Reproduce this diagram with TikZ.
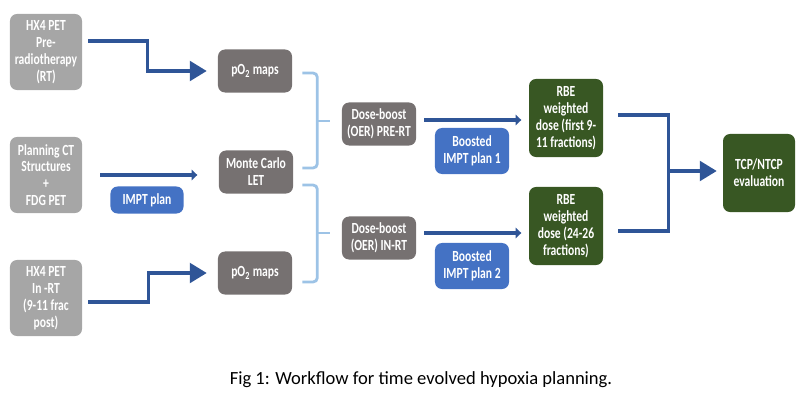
\documentclass[tikz,border=0pt]{standalone}
\usepackage{fontspec}
\setmainfont{Carlito}
\newfontfamily\boxfont{Carlito}[FakeStretch=0.75]
\usetikzlibrary{calc,arrows.meta}
\definecolor{grayin}{RGB}{166,166,166}
\definecolor{graymid}{RGB}{118,113,113}
\definecolor{planblue}{RGB}{68,114,196}
\definecolor{dosegreen}{RGB}{56,87,35}
\definecolor{arrowblue}{RGB}{47,85,151}
\definecolor{braceblue}{RGB}{157,195,230}

\begin{document}
\begin{tikzpicture}[x=0.025cm, y=-0.025cm,
  box/.style={rounded corners=5pt, text=white, align=center, font=\boxfont\bfseries\fontsize{11}{12}\selectfont, inner sep=0pt},
  inbox/.style={box, fill=grayin, minimum width=1.8cm, minimum height=1.9cm},
  midbox/.style={box, fill=graymid, minimum width=1.85cm, minimum height=1.075cm},
  planbox/.style={box, fill=planblue, minimum width=1.85cm},
  dosebox/.style={box, fill=dosegreen, minimum width=1.85cm, minimum height=1.95cm},
  flow/.style={arrowblue, line width=2.2pt},
  bigflow/.style={flow, -{Triangle[length=12pt,width=14pt]}},
  smallflow/.style={flow, line width=3pt, -{Triangle[length=4pt,width=7.5pt]}},
  brace/.style={braceblue, line width=2pt, rounded corners=3pt}]
        \useasboundingbox (0,0) rectangle (800,400);
        % inputs
        \node [inbox] (hxpre) at (46,52) {HX4 PET\\Pre-\\radiotherapy\\(RT)};
        \node [inbox] (plan) at (46,175) {Planning CT\\Structures\\+\\FDG PET};
        \node [inbox] (hxin) at (46,298) {HX4 PET\\In -RT\\(9-11 frac\\post)};
        % maps
        \node [midbox] (potop) at (255,71) {pO\textsubscript{2} maps};
        \node [midbox] (mc) at (256,172) {Monte Carlo\\LET};
        \node [midbox] (pobot) at (255,273) {pO\textsubscript{2} maps};
        \node [planbox, minimum height=0.675cm, minimum width=1.825cm] (impt) at (147,200) {IMPT plan};
        % boost
        \node [midbox] (dbpre) at (379,124) {Dose-boost\\(OER) PRE-RT};
        \node [midbox] (dbin) at (379,238) {Dose-boost\\(OER) IN-RT};
        \node [planbox, minimum height=1.15cm] (bst1) at (472,151) {Boosted\\IMPT plan 1};
        \node [planbox, minimum height=1.15cm] (bst2) at (472,266) {Boosted\\IMPT plan 2};
        % doses
        \node [dosebox] (rbe1) at (566,118) {RBE\\weighted\\dose (first 9-\\11 fractions)};
        \node [dosebox] (rbe2) at (566,226) {RBE\\weighted\\dose (24-26\\fractions)};
        \node [dosebox, minimum width=1.8cm] (tcp) at (759,173) {TCP/NTCP\\evaluation};
        \node [font=\fontsize{13.2}{15}\selectfont] (cap) at (421,380) {Fig 1: Workflow for time evolved hypoxia planning.};

        \draw[bigflow] ($(hxpre.east)+(6,-11)$) -- ++(59,0) |- ($(potop.west)+(-11,0)$);
        \draw[smallflow] ($(plan.east)+(18,0)$) -- ++(97,0);
        \draw[bigflow] ($(hxin.east)+(6,4)$) -- ++(60,0) |- ($(pobot.west)+(-11,0)$);

        \draw[brace] ($(potop.east)+(10,2)$) -- ++(15,0) -- ++(0,95) -- ++(-15,0);
        \draw[brace] ($(potop.east)+(25,50)$) -- ($(dbpre.west)+(-12,-3)$);
        \draw[brace] ($(mc.east)+(9,13)$) -- ++(15,0) -- ++(0,97) -- ++(-15,0);
        \draw[brace] ($(mc.east)+(24,61)$) -- ($(dbin.west)+(-12,-5)$);

        \draw[smallflow] ($(dbpre.east)+(8,-4)$) -- ++(97,0);
        \draw[smallflow] ($(dbin.east)+(8,-5)$) -- ++(97,0);

        \coordinate (jn) at ($(rbe1.east)+(65,53)$);
        \draw[flow] ($(rbe1.east)+(15,-3)$) -| ($(rbe2.east)+(65,5)$) -- ($(rbe2.east)+(15,5)$);
        \draw[bigflow] (jn) -- ($(tcp.west)+(-6,-2)$);
    \end{tikzpicture}
\end{document}
